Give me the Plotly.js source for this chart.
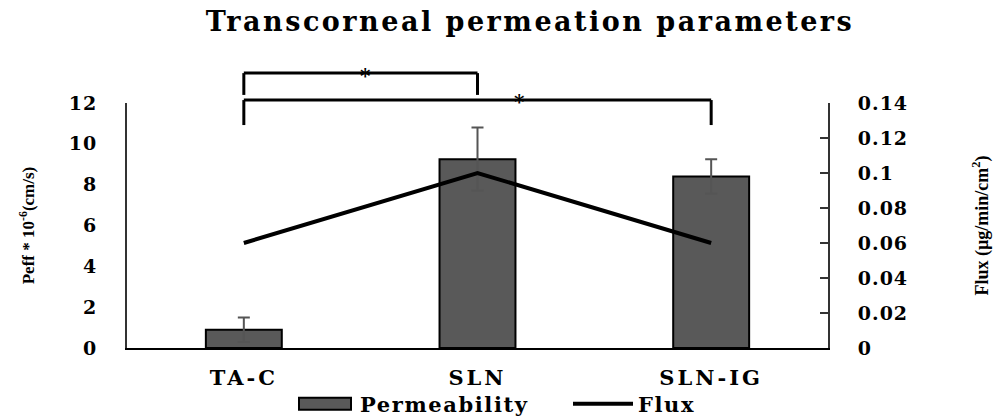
<!DOCTYPE html>
<html>
<head>
<meta charset="utf-8">
<script src="https://cdn.plot.ly/plotly-3.0.1.min.js"></script>
<style>
html,body{margin:0;padding:0;background:#fff;}
#chart{width:1000px;height:416px;}
.xtick text{letter-spacing:3px;}
.ytick text,.y2tick text{letter-spacing:1px;}
.legendtext{letter-spacing:1.6px;}
.gtitle{letter-spacing:2.5px;}
</style>
</head>
<body>
<div id="chart"></div>
<script>
const categories = ['TA-C', 'SLN', 'SLN-IG'];
const permeability = [0.9, 9.25, 8.4];
const permeabilityError = [0.6, 1.55, 0.85];
const flux = [0.06, 0.1, 0.06];
const leftTicks = [0, 2, 4, 6, 8, 10, 12];
const rightTicks = [0, 0.02, 0.04, 0.06, 0.08, 0.1, 0.12, 0.14];

const serif = 'DejaVu Serif, Liberation Serif, serif';
const times = 'Liberation Serif, Times New Roman, serif';

const traces = [
  {
    type: 'bar', name: 'Permeability', x: categories, y: permeability,
    marker: {color: '#595959', line: {color: '#000', width: 2}},
    error_y: {type: 'data', array: permeabilityError, visible: true, color: '#555', thickness: 2, width: 6},
    yaxis: 'y'
  },
  {
    type: 'scatter', mode: 'lines', name: 'Flux', x: categories, y: flux,
    line: {color: '#000', width: 4},
    yaxis: 'y2'
  }
];

function bracket(x0, x1, yTop, yBot) {
  const s = {type: 'line', xref: 'x', yref: 'paper', line: {color: '#000', width: 3}};
  return [
    Object.assign({}, s, {x0: x0, x1: x1, y0: yTop, y1: yTop}),
    Object.assign({}, s, {x0: x0, x1: x0, y0: yTop, y1: yBot}),
    Object.assign({}, s, {x0: x1, x1: x1, y0: yTop, y1: yBot})
  ];
}

const layout = {
  width: 1000, height: 416,
  margin: {l: 127, r: 172, t: 103, b: 68, autoexpand: false},
  paper_bgcolor: '#fff', plot_bgcolor: '#fff',
  showlegend: true,
  bargap: 0.675,
  title: {text: 'Transcorneal permeation parameters', x: 0.53, xref: 'container', xanchor: 'center',
          y: 0.947, yanchor: 'middle', font: {family: serif, size: 27, color: '#000', weight: 'bold'}},
  xaxis: {
    type: 'category', range: [-0.5, 2.5], showline: true, linecolor: '#000', linewidth: 2,
    ticks: '', showgrid: false, zeroline: false, ticklabelstandoff: 10,
    tickfont: {family: serif, size: 21, color: '#000', weight: 'bold'}
  },
  yaxis: {
    range: [0, 12], tickvals: leftTicks, showline: true, linecolor: '#333', linewidth: 2,
    ticks: '', showgrid: false, zeroline: false, ticklabelstandoff: 24,
    tickfont: {family: serif, size: 19, color: '#000', weight: 'bold'},
    title: {text: 'Peff * 10<sup>-6</sup>(cm/s)', standoff: 30, font: {family: times, size: 17, color: '#000', weight: 'bold'}}
  },
  yaxis2: {
    overlaying: 'y', side: 'right', range: [0, 0.14], tickvals: rightTicks,
    showline: true, linecolor: '#333', linewidth: 2, ticks: 'inside', ticklen: 8, tickcolor: '#333', tickwidth: 2,
    showgrid: false, zeroline: false, ticklabelstandoff: 24,
    tickfont: {family: serif, size: 19, color: '#000', weight: 'bold'},
    title: {text: 'Flux (µg/min/cm<sup>2</sup>)', standoff: 68, font: {family: times, size: 18, color: '#000', weight: 'bold'}}
  },
  legend: {
    orientation: 'h', xref: 'container', yref: 'container', x: 0.29, xanchor: 'left', y: 0.078, yanchor: 'top',
    font: {family: serif, size: 21, color: '#000', weight: 'bold'},
    itemwidth: 60, entrywidth: 203, entrywidthmode: 'pixels', traceorder: 'normal', bgcolor: 'rgba(0,0,0,0)'
  },
  shapes: [].concat(bracket(0, 1, 1.122, 1.033), bracket(0, 2, 1.012, 0.91)),
  annotations: [
    {text: '*', xref: 'x', yref: 'paper', x: 0.52, y: 1.167, showarrow: false, font: {family: serif, size: 20, color: '#000', weight: 'bold'}},
    {text: '*', xref: 'x', yref: 'paper', x: 1.18, y: 1.061, showarrow: false, font: {family: serif, size: 20, color: '#000', weight: 'bold'}}
  ]
};

function widenSwatch() {
  const groups = document.querySelectorAll('.legend .traces');
  if (groups.length) {
    groups[0].querySelectorAll('.legendpoints path').forEach(function (p) {
      p.setAttribute('d', 'M26,6H-26V-6H26Z');
    });
  }
}

Plotly.newPlot('chart', traces, layout, {displayModeBar: false, staticPlot: true}).then(function () {
  widenSwatch();
  setTimeout(widenSwatch, 50);
});
</script>
</body>
</html>
